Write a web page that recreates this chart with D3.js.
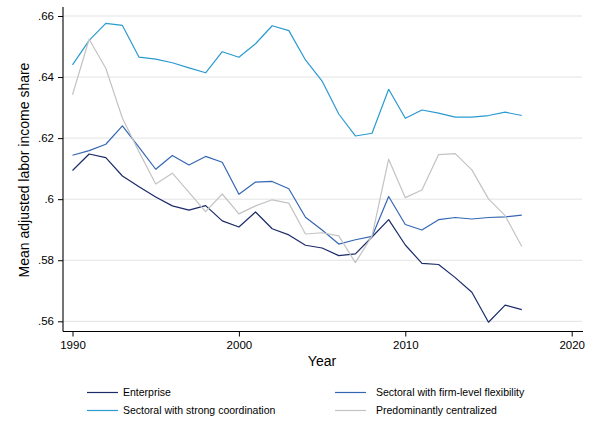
<!DOCTYPE html>
<html>
<head>
<meta charset="utf-8">
<script src="https://cdn.jsdelivr.net/npm/d3@7"></script>
<style>
  body { margin: 0; background: #fff; }
  text { font-family: "Liberation Sans", Arial, Helvetica, sans-serif; fill: #000; }
</style>
</head>
<body>
<div id="chart"></div>
<script>
const width = 597;
const height = 421;

// years 1990-2017
const years = d3.range(1990, 2018);

const enterprise = [0.6094, 0.6148, 0.6136, 0.6076, 0.6041, 0.6007, 0.5978, 0.5964, 0.5979, 0.5929,
  0.5909, 0.5958, 0.5903, 0.5883, 0.5849, 0.5840, 0.5815, 0.5821, 0.5876, 0.5933,
  0.5850, 0.5790, 0.5786, 0.5743, 0.5695, 0.5597, 0.5653, 0.5638];
const firmFlex = [0.6144, 0.6159, 0.6180, 0.6240, 0.6170, 0.6098, 0.6143, 0.6112, 0.6140, 0.6121,
  0.6016, 0.6056, 0.6058, 0.6034, 0.5941, 0.5899, 0.5853, 0.5867, 0.5878, 0.6009,
  0.5917, 0.5899, 0.5933, 0.5940, 0.5935, 0.5940, 0.5942, 0.5948];
const strongCoord = [0.6440, 0.6520, 0.6576, 0.6569, 0.6465, 0.6459, 0.6447, 0.6430, 0.6414, 0.6483,
  0.6465, 0.6509, 0.6568, 0.6552, 0.6456, 0.6387, 0.6279, 0.6207, 0.6216, 0.6360,
  0.6265, 0.6292, 0.6282, 0.6269, 0.6269, 0.6274, 0.6285, 0.6274];
const centralized = [0.6342, 0.6524, 0.6429, 0.6265, 0.6155, 0.6050, 0.6085, 0.6022, 0.5959, 0.6017,
  0.5952, 0.5978, 0.5998, 0.5987, 0.5886, 0.5890, 0.5880, 0.5792, 0.5880, 0.6131,
  0.6005, 0.6030, 0.6146, 0.6149, 0.6096, 0.6001, 0.5946, 0.5845];

const xTicks = [1990, 2000, 2010, 2020];
const yTicks = [0.56, 0.58, 0.60, 0.62, 0.64, 0.66];
const yTickLabels = [".56", ".58", ".6", ".62", ".64", ".66"];

const series = [
  { name: "Enterprise", values: enterprise, color: "#1b2b6a" },
  { name: "Sectoral with firm-level flexibility", values: firmFlex, color: "#3467b3" },
  { name: "Sectoral with strong coordination", values: strongCoord, color: "#2a9ad0" },
  { name: "Predominantly centralized", values: centralized, color: "#c3c3c3" }
];

const svg = d3.select("#chart").append("svg")
  .attr("width", width)
  .attr("height", height);

const x = d3.scaleLinear().domain([1990, 2020]).range([72.5, 571.7]);
const y = d3.scaleLinear().domain([0.56, 0.66]).range([321.3, 16]);

const plotLeft = 63, plotRight = 583, plotTop = 7, plotBottom = 331.5;

// gridlines
svg.append("g")
  .selectAll("line")
  .data(yTicks)
  .enter()
  .append("line")
  .attr("x1", plotLeft)
  .attr("x2", 582)
  .attr("y1", d => y(d))
  .attr("y2", d => y(d))
  .attr("stroke", "#e3e3e3")
  .attr("stroke-width", 1);

// y axis
const yAxis = d3.axisLeft(y)
  .tickValues(yTicks)
  .tickSize(5)
  .tickPadding(4)
  .tickFormat((d, i) => yTickLabels[i]);

const gy = svg.append("g")
  .attr("transform", `translate(${plotLeft},0)`)
  .call(yAxis);
gy.select(".domain").attr("d", `M0,${plotTop}V${plotBottom}`).attr("stroke", "#000").attr("stroke-width", 1.1);
gy.selectAll(".tick line").attr("stroke", "#000");
gy.selectAll("text").style("font-size", "11.5px").attr("fill", "#000");

// x axis
const xAxis = d3.axisBottom(x)
  .tickValues(xTicks)
  .tickSize(5)
  .tickPadding(4)
  .tickFormat(d3.format("d"));

const gx = svg.append("g")
  .attr("transform", `translate(0,${plotBottom})`)
  .call(xAxis);
gx.select(".domain").attr("d", `M${plotLeft},0H${plotRight}`).attr("stroke", "#000").attr("stroke-width", 1.1);
gx.selectAll(".tick line").attr("stroke", "#000");
gx.selectAll("text").style("font-size", "11.5px").attr("fill", "#000");

// lines
const line = d3.line()
  .x((d, i) => x(years[i]))
  .y(d => y(d));

svg.append("g")
  .selectAll("path")
  .data(series)
  .enter()
  .append("path")
  .attr("d", d => line(d.values))
  .attr("fill", "none")
  .attr("stroke", d => d.color)
  .attr("stroke-width", 1.2)
  .attr("stroke-linejoin", "round");

// axis titles
svg.append("text")
  .attr("x", 322)
  .attr("y", 366)
  .attr("text-anchor", "middle")
  .style("font-size", "14px")
  .text("Year");

svg.append("text")
  .attr("transform", "translate(29,170) rotate(-90)")
  .attr("text-anchor", "middle")
  .style("font-size", "14px")
  .text("Mean adjusted labor income share");

// legend: two columns, two rows
const legendPos = [
  { lx: 87, tx: 123, ty: 392.5 },
  { lx: 335, tx: 376, ty: 392.5 },
  { lx: 87, tx: 123, ty: 410.5 },
  { lx: 335, tx: 376, ty: 410.5 }
];

const legend = svg.append("g")
  .selectAll("g")
  .data(series)
  .enter()
  .append("g")
  .attr("transform", (d, i) => `translate(0,${legendPos[i].ty})`);

legend.append("line")
  .attr("x1", (d, i) => legendPos[i].lx)
  .attr("x2", (d, i) => legendPos[i].lx + 31)
  .attr("stroke", d => d.color)
  .attr("stroke-width", 1.2);

legend.append("text")
  .attr("x", (d, i) => legendPos[i].tx)
  .attr("dy", "0.35em")
  .style("font-size", "10.5px")
  .text(d => d.name);
</script>
</body>
</html>
